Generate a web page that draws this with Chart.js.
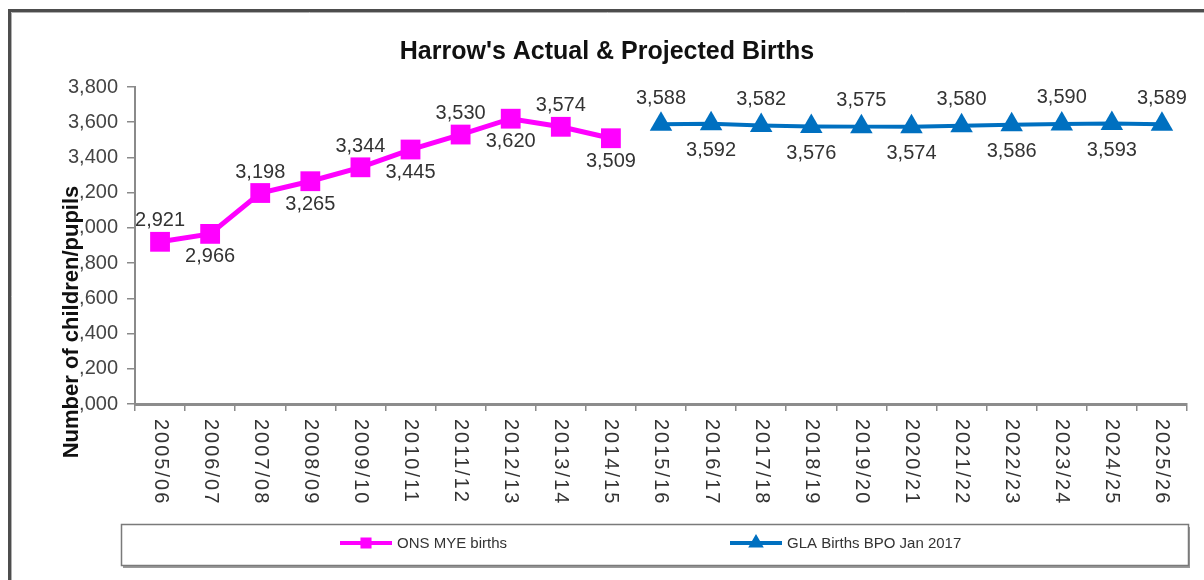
<!DOCTYPE html>
<html>
<head>
<meta charset="utf-8">
<title>Harrow's Actual &amp; Projected Births</title>
<script src="https://cdn.jsdelivr.net/npm/chart.js@4.4.1/dist/chart.umd.min.js"></script>
<style>
  html, body { margin: 0; padding: 0; background: #fff; }
  #wrap { width: 1204px; height: 580px; }
</style>
</head>
<body>
<div id="wrap"><canvas id="births" width="1204" height="580"></canvas></div>
<script>
const years = [
  "2005/06", "2006/07", "2007/08", "2008/09", "2009/10", "2010/11", "2011/12",
  "2012/13", "2013/14", "2014/15", "2015/16", "2016/17", "2017/18", "2018/19",
  "2019/20", "2020/21", "2021/22", "2022/23", "2023/24", "2024/25", "2025/26"
];
const onsBirths = [2921, 2966, 3198, 3265, 3344, 3445, 3530, 3620, 3574, 3509,
  null, null, null, null, null, null, null, null, null, null, null];
const glaBirths = [null, null, null, null, null, null, null, null, null, null,
  3588, 3592, 3582, 3576, 3575, 3574, 3580, 3586, 3590, 3593, 3589];
// where each value label sits relative to its point
const onsLabelSide = ["up", "down", "up", "down", "up", "down", "up", "down", "up", "down"];
const glaLabelSide = ["up", "down", "up", "down", "up", "down", "up", "down", "up", "down", "up"];
const yMin = 2000, yMax = 3800, yStep = 200;

const FONT = '"Liberation Sans", Arial, sans-serif';
const PINK = "#FF00FF";
const BLUE = "#0070C0";

const fmt = new Intl.NumberFormat("en-GB");

// outer frame of the original picture (left + top edges only)
const framePlugin = {
  id: "frame",
  beforeDraw(chart) {
    const ctx = chart.ctx;
    ctx.save();
    ctx.fillStyle = "#fff";
    ctx.fillRect(0, 0, chart.width, chart.height);
    ctx.strokeStyle = "#4d4d4d";
    ctx.lineWidth = 3;
    ctx.beginPath();
    ctx.moveTo(9.5, chart.height);
    ctx.lineTo(9.5, 10.5);
    ctx.lineTo(chart.width, 10.5);
    ctx.stroke();
    ctx.strokeStyle = "#b0b0b0";
    ctx.lineWidth = 1;
    ctx.beginPath();
    ctx.moveTo(11.5, chart.height);
    ctx.lineTo(11.5, 12.5);
    ctx.lineTo(chart.width, 12.5);
    ctx.stroke();
    ctx.restore();
  }
};

// x labels read top to bottom
const xLabelPlugin = {
  id: "xLabels",
  afterDraw(chart) {
    const ctx = chart.ctx;
    const x = chart.scales.x;
    ctx.save();
    ctx.font = "20px " + FONT;
    ctx.fillStyle = "#333";
    ctx.textAlign = "left";
    ctx.textBaseline = "middle";
    if ("letterSpacing" in ctx) ctx.letterSpacing = "2px";
    x.ticks.forEach((t, i) => {
      const px = x.getPixelForTick(i);
      ctx.save();
      ctx.translate(px, x.bottom + 8);
      ctx.rotate(Math.PI / 2);
      ctx.fillText(years[i], 0, 0);
      ctx.restore();
    });
    ctx.restore();
  }
};

// axis title sits over the tick labels, white behind it
const yTitlePlugin = {
  id: "yTitle",
  afterDraw(chart) {
    const ctx = chart.ctx;
    const y = chart.scales.y;
    const text = "Number of children/pupils";
    ctx.save();
    ctx.font = "bold 22px " + FONT;
    const w = ctx.measureText(text).width;
    const cy = y.bottom - 82;
    ctx.translate(71, cy);
    ctx.rotate(-Math.PI / 2);
    ctx.fillStyle = "#fff";
    ctx.fillRect(-w / 2 - 2, -9, w + 4, 18);
    ctx.fillStyle = "#111";
    ctx.textAlign = "center";
    ctx.textBaseline = "middle";
    ctx.fillText(text, 0, 1);
    ctx.restore();
  }
};

const valueLabelPlugin = {
  id: "valueLabels",
  afterDatasetsDraw(chart) {
    const ctx = chart.ctx;
    ctx.save();
    ctx.font = "20px " + FONT;
    ctx.fillStyle = "#333";
    ctx.textAlign = "center";
    ctx.textBaseline = "middle";
    chart.data.datasets.forEach((ds, di) => {
      const meta = chart.getDatasetMeta(di);
      let k = 0;
      meta.data.forEach((pt, i) => {
        const v = ds.data[i];
        if (v === null) return;
        const side = ds.labelSide[k++];
        const dy = side === "up" ? -ds.labelUp : ds.labelDown;
        ctx.fillText(fmt.format(v), pt.x, pt.y + dy);
      });
    });
    ctx.restore();
  }
};

// boxed legend along the bottom
const legendBoxPlugin = {
  id: "legendBox",
  afterDraw(chart) {
    const ctx = chart.ctx;
    const left = 121, top = 524, w = 1067, h = 41;
    ctx.save();
    ctx.fillStyle = "#9a9a9a";
    ctx.fillRect(left + 2, top + 3, w, h);
    ctx.fillStyle = "#fff";
    ctx.fillRect(left, top, w, h);
    ctx.strokeStyle = "#7a7a7a";
    ctx.lineWidth = 1.5;
    ctx.strokeRect(left + 0.5, top + 0.5, w, h);

    const items = [
      { x: 340, ds: chart.data.datasets[0] },
      { x: 730, ds: chart.data.datasets[1] }
    ];
    const cy = top + 19;
    ctx.font = "15px " + FONT;
    ctx.textAlign = "left";
    ctx.textBaseline = "middle";
    items.forEach(it => {
      ctx.strokeStyle = it.ds.borderColor;
      ctx.lineWidth = 4;
      ctx.beginPath();
      ctx.moveTo(it.x, cy);
      ctx.lineTo(it.x + 52, cy);
      ctx.stroke();
      Chart.helpers.drawPoint(ctx, {
        pointStyle: it.ds.pointStyle,
        radius: 5,
        borderWidth: 1
      }, it.x + 26, cy);
      ctx.fillStyle = it.ds.borderColor;
      ctx.fill();
      ctx.fillStyle = "#333";
      ctx.fillText(it.ds.label, it.x + 57, cy + 1);
    });
    ctx.restore();
  }
};

new Chart(document.getElementById("births"), {
  type: "line",
  data: {
    labels: years,
    datasets: [
      {
        label: "ONS MYE births",
        data: onsBirths,
        borderColor: PINK,
        backgroundColor: PINK,
        borderWidth: 5,
        pointStyle: "rect",
        pointRadius: 14,
        pointBorderWidth: 0,
        spanGaps: false,
        labelSide: onsLabelSide,
        labelUp: 21,
        labelDown: 23
      },
      {
        label: "GLA Births BPO Jan 2017",
        data: glaBirths,
        borderColor: BLUE,
        backgroundColor: BLUE,
        borderWidth: 4,
        pointStyle: "triangle",
        pointRadius: 13,
        pointBorderWidth: 0,
        spanGaps: false,
        labelSide: glaLabelSide,
        labelUp: 26,
        labelDown: 27
      }
    ]
  },
  options: {
    responsive: false,
    animation: false,
    layout: { padding: { left: 27, right: 17, top: 10, bottom: 169 } },
    plugins: {
      legend: { display: false },
      tooltip: { enabled: false },
      title: {
        display: true,
        text: "Harrow's Actual & Projected Births",
        color: "#111",
        font: { family: FONT, size: 25, weight: "bold" },
        padding: { top: 27, bottom: 20 }
      }
    },
    scales: {
      x: {
        type: "category",
        offset: true,
        grid: {
          offset: true,
          drawOnChartArea: false,
          drawTicks: true,
          tickLength: 7,
          color: "#8a8a8a",
          lineWidth: 1.5
        },
        border: { color: "#8c8c8c", width: 3 },
        ticks: { display: false }
      },
      y: {
        min: yMin,
        max: yMax,
        afterFit(scale) { scale.width = 108; },
        ticks: {
          stepSize: yStep,
          padding: 9,
          color: "#444",
          font: { family: FONT, size: 20 },
          callback: v => fmt.format(v)
        },
        grid: {
          drawOnChartArea: false,
          drawTicks: true,
          tickLength: 8,
          color: "#8a8a8a",
          lineWidth: 1.5
        },
        border: { color: "#8a8a8a", width: 2 }
      }
    }
  },
  plugins: [framePlugin, xLabelPlugin, yTitlePlugin, valueLabelPlugin, legendBoxPlugin]
});
</script>
</body>
</html>
